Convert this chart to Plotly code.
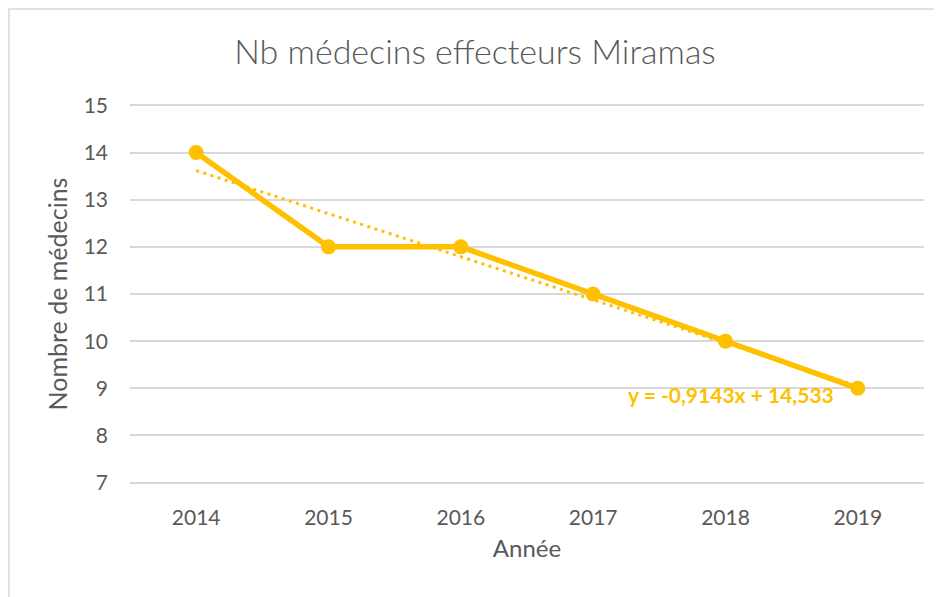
import numpy as np
import plotly.graph_objects as go

annees = ["2014", "2015", "2016", "2017", "2018", "2019"]
nb_medecins = [14, 12, 12, 11, 10, 9]
equation = "y = -0,9143x + 14,533"

# courbe de tendance linéaire (comme Excel, x = 1..n)
rang = np.arange(1, len(annees) + 1)
pente, origine = np.polyfit(rang, nb_medecins, 1)
tendance = pente * rang + origine

JAUNE = "#FFC000"
GRIS = "#595959"
POLICE = "Lato, 'Open Sans', sans-serif"

fig = go.Figure()
fig.add_trace(
    go.Scatter(
        x=annees,
        y=tendance,
        mode="lines",
        line=dict(color=JAUNE, width=3, dash="3px,4.5px"),
        hoverinfo="skip",
        showlegend=False,
    )
)
fig.add_trace(
    go.Scatter(
        x=annees,
        y=nb_medecins,
        mode="lines+markers",
        line=dict(color=JAUNE, width=5.5),
        marker=dict(color=JAUNE, size=15),
        name="Nb médecins",
        showlegend=False,
    )
)

fig.add_annotation(
    x=4.04,
    y=8.87,
    xref="x",
    yref="y",
    text=f"<b>{equation}</b>",
    showarrow=False,
    font=dict(color=JAUNE, size=21, family=POLICE),
)

# cadre gris clair du graphique (coin haut gauche visible)
fig.add_shape(
    type="rect",
    xref="paper",
    yref="paper",
    x0=-0.1524,
    x1=1.2,
    y0=-0.6,
    y1=1.25,
    line=dict(color="#D9D9D9", width=1.5),
    layer="below",
)

# la page ajoute 8 px de marge au body
fig.update_layout(
    width=934,
    height=589,
    margin=dict(l=122, r=18, t=96, b=113),
    paper_bgcolor="white",
    plot_bgcolor="white",
    font=dict(family=POLICE, color=GRIS, size=21),
    title=dict(
        text="Nb médecins effecteurs Miramas",
        x=0.5,
        xanchor="center",
        y=1 - 44 / 589,
        yanchor="middle",
        font=dict(size=34, color=GRIS, family=POLICE, weight=300),
    ),
)
fig.update_xaxes(
    type="category",
    range=[-0.5, 5.5],
    showgrid=False,
    showline=False,
    zeroline=False,
    ticks="",
    ticklabelstandoff=19,
    tickfont=dict(size=21, color=GRIS),
    title=dict(text="Année", font=dict(size=24, color=GRIS), standoff=12),
)
fig.update_yaxes(
    range=[6.97, 15.03],
    dtick=1,
    tick0=0,
    showgrid=True,
    gridcolor="#D9D9D9",
    gridwidth=1.5,
    zeroline=False,
    showline=False,
    ticks="",
    ticklabelstandoff=21,
    tickfont=dict(size=21, color=GRIS),
    title=dict(text="Nombre de médecins", font=dict(size=25, color=GRIS), standoff=8),
)

fig.write_html("out.html")
